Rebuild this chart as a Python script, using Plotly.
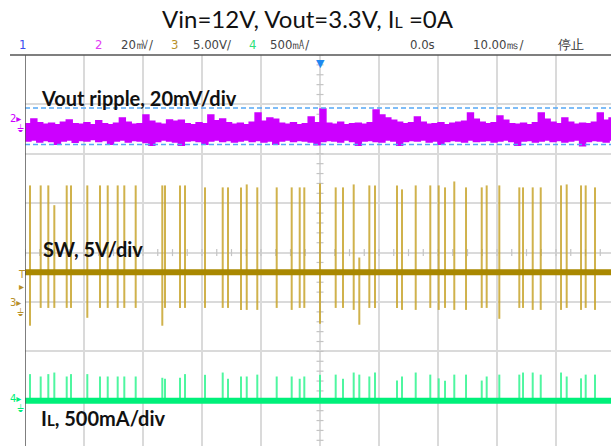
import plotly.graph_objects as go

W, H = 611, 446
ML, MT = 25, 55                      # plot area left / top (px)
PW, PH = W - ML, H - MT

# ---------------- axes (screen divisions) ----------------
t_min, t_max = -50.0, 49.32          # ms, 10 ms/div
y_min, y_max = -3.915, 4.0           # divisions

# ---------------- Channel 2 : Vout ripple (mV, relative) ----------------
ripple_t = list(range(-50, 50))      # ms
ripple_upper = [3.0, 4.9, 3.4, 2.8, 3.2, 2.6, 3.6, 4.5, 3.0, 2.8,
                3.4, 2.6, 4.2, 3.0, 2.6, 3.2, 5.3, 3.6, 2.8, 3.0,
                6.5, 4.0, 3.2, 2.8, 4.5, 4.0, 4.4, 3.0, 2.6, 3.4,
                3.0, 6.5, 4.2, 4.9, 3.4, 2.8, 3.2, 2.6, 3.6, 7.3,
                4.0, 5.3, 4.8, 3.2, 2.8, 3.4, 2.6, 3.0, 5.7, 3.4,
                8.9, 3.2, 2.8, 3.6, 2.6, 3.0, 3.2, 2.8, 3.4, 8.5,
                6.5, 5.3, 4.4, 3.6, 3.0, 3.4, 5.7, 3.6, 2.8, 3.0,
                3.4, 2.6, 3.2, 3.6, 4.0, 7.3, 4.8, 3.6, 3.0, 3.4,
                6.1, 4.4, 3.0, 2.8, 3.2, 2.6, 3.4, 7.3, 4.8, 3.6,
                3.0, 5.3, 3.6, 2.8, 3.2, 3.0, 3.6, 7.3, 4.4, 5.3]
ripple_lower = [-4.0, -3.6, -4.4, -3.8, -4.2, -5.3, -4.0, -3.6, -4.5, -3.8,
                -4.0, -3.4, -4.2, -3.8, -5.3, -4.0, -3.6, -4.4, -3.8, -4.0,
                -4.6, -5.7, -4.2, -3.6, -4.0, -4.4, -5.7, -4.0, -3.8, -4.2,
                -5.3, -4.0, -3.6, -4.2, -3.8, -4.4, -4.0, -3.6, -4.2, -3.8,
                -4.4, -4.0, -5.3, -4.0, -3.6, -4.2, -3.8, -4.0, -4.4, -5.5,
                -4.2, -3.8, -4.0, -4.4, -3.6, -4.2, -5.7, -4.0, -3.8, -4.2,
                -4.4, -3.6, -4.0, -5.7, -4.2, -3.8, -4.0, -3.6, -4.4, -4.0,
                -5.3, -4.2, -3.8, -4.0, -4.4, -3.6, -4.2, -4.0, -3.8, -4.4,
                -4.0, -3.6, -4.2, -5.7, -4.0, -3.8, -4.4, -4.0, -3.6, -4.2,
                -3.8, -4.4, -4.0, -3.6, -5.9, -4.2, -3.8, -4.0, -4.4, -3.6]
ripple_center_div = 2.46
ripple_scale = 20.0                  # mV/div
cursor_mv = [9.3, -5.4]

# ---------------- Switching events ----------------
pulse_t = [-49.15, -47.34, -46.05, -45.03, -42.93, -42.20, -39.44, -37.29, -35.98, -34.29,
           -33.17, -31.24, -26.73, -26.27, -23.73, -22.88, -19.49, -16.49, -15.59, -13.39,
           -12.42, -10.63, -7.34, -4.80, -3.44, -2.66, 0.0, 2.66, 3.90, 5.71,
           6.66, 8.36, 9.32, 13.05, 13.90, 16.22, 18.69, 20.12, 21.19, 22.76,
           24.75, 27.41, 28.25, 30.39, 33.78, 34.41, 36.05, 37.41, 40.85, 41.81,
           44.24, 45.03, 46.61]

# Channel 3 : SW node (V)
sw_high = [11.8, 11.8, 11.8, 9.8, 11.8, 11.8, 11.8, 11.8, 11.8, 11.8,
           11.8, 11.8, 11.8, 11.8, 11.8, 11.8, 11.6, 11.6, 11.6, 11.6,
           11.9, 11.6, 11.6, 11.6, 11.6, 11.6, 12.0, 11.6, 11.6, 11.9,
           4.5, 11.8, 11.8, 11.8, 11.4, 11.8, 11.8, 11.8, 11.6, 12.2,
           11.6, 11.6, 11.8, 11.8, 11.6, 11.6, 11.6, 11.6, 11.8, 11.9,
           11.8, 11.8, 11.6]
sw_low = [-2.4, -0.6, -0.6, -0.6, -0.6, -0.6, -1.6, -0.6, -0.6, -0.6,
          -0.6, -0.6, -2.4, -0.6, -0.6, -0.6, -0.6, -0.6, -0.6, -0.8,
          -0.8, -0.8, -0.6, -0.8, -0.6, -0.6, -2.2, -0.6, -0.6, -0.8,
          -2.3, -0.6, -0.6, -0.6, -0.8, -0.8, -0.6, -0.8, -0.6, -0.8,
          -0.8, -0.6, -0.6, -1.7, -0.6, -0.6, -0.8, -0.8, -0.8, -0.6,
          -0.8, -0.6, -0.8]
sw_idle = 3.0
sw_ground_div = -1.0
sw_scale = 5.0                       # V/div

# Channel 4 : inductor current (mA)
il_peak = [270, 246, 270, 286, 246, 270, 270, 246, 246, 246,
           246, 246, 233, 223, 233, 270, 263, 286, 223, 246,
           246, 265, 246, 246, 223, 246, 263, 265, 223, 286,
           265, 246, 286, 205, 246, 286, 265, 227, 203, 265,
           265, 205, 246, 265, 265, 286, 286, 265, 286, 246,
           227, 265, 265]
il_idle = 0.0
il_ground_div = -3.0
il_scale = 500.0                     # mA/div

# ---------------- colours ----------------
C_MAG = "#CC00FF"
C_GOLD = "#A98800"
C_GOLD_SPIKE = "rgba(200,165,45,0.85)"
C_GREEN = "#00F07A"
C_GREEN_SPIKE = "rgba(60,245,150,0.9)"
C_CURSOR = "#55A8F5"
C_GRID = "#DADADA"


def ch2(v):
    return ripple_center_div + v / ripple_scale


def ch3(v):
    return sw_ground_div + v / sw_scale


def ch4(v):
    return il_ground_div + v / il_scale


def px_x(px):
    return (px - ML) / PW


def px_y(py):
    return (H - py) / PH


fig = go.Figure()

# centre-axis minor ticks (graticule furniture)
minor_x = [t_min + 2.5 * i for i in range(40)]
minor_y = [-3.8 + 0.2 * i for i in range(40)]
fig.add_trace(go.Scatter(x=minor_x, y=[0] * len(minor_x), mode="markers",
                         marker=dict(symbol="line-ns-open", size=5, color="#C4C4C4",
                                     line=dict(color="#C4C4C4", width=1.2)),
                         hoverinfo="skip", showlegend=False))
fig.add_trace(go.Scatter(x=[0] * len(minor_y), y=minor_y, mode="markers",
                         marker=dict(symbol="line-ew-open", size=5, color="#C4C4C4",
                                     line=dict(color="#C4C4C4", width=1.2)),
                         hoverinfo="skip", showlegend=False))

# Ch2 ripple band
fig.add_trace(go.Scatter(x=ripple_t + [t_max], y=[ch2(v) for v in ripple_upper] + [ch2(ripple_upper[-1])],
                         mode="lines", line=dict(color=C_MAG, width=1.5, shape="hv"),
                         hoverinfo="skip", showlegend=False))
fig.add_trace(go.Scatter(x=ripple_t + [t_max], y=[ch2(v) for v in ripple_lower] + [ch2(ripple_lower[-1])],
                         mode="lines", line=dict(color=C_MAG, width=1.5, shape="hv"),
                         fill="tonexty", fillcolor=C_MAG,
                         hoverinfo="skip", showlegend=False))

# cursors
for c in cursor_mv:
    fig.add_trace(go.Scatter(x=[t_min, t_max], y=[ch2(c), ch2(c)], mode="lines",
                             line=dict(color=C_CURSOR, width=1.5, dash="5px,3px"),
                             hoverinfo="skip", showlegend=False))

# Ch3 SW spikes
sx, sy = [], []
for t, hi, lo in zip(pulse_t, sw_high, sw_low):
    sx += [t, t, None]
    sy += [ch3(lo), ch3(hi), None]
fig.add_trace(go.Scatter(x=sx, y=sy, mode="lines",
                         line=dict(color=C_GOLD_SPIKE, width=2),
                         hoverinfo="skip", showlegend=False))
fig.add_trace(go.Scatter(x=[t_min, t_max], y=[ch3(sw_idle)] * 2, mode="lines",
                         line=dict(color=C_GOLD, width=6),
                         hoverinfo="skip", showlegend=False))

# Ch4 IL spikes
gx, gy = [], []
for t, pk in zip(pulse_t, il_peak):
    gx += [t, t, None]
    gy += [ch4(il_idle), ch4(pk), None]
fig.add_trace(go.Scatter(x=gx, y=gy, mode="lines",
                         line=dict(color=C_GREEN_SPIKE, width=2),
                         hoverinfo="skip", showlegend=False))
fig.add_trace(go.Scatter(x=[t_min, t_max], y=[ch4(il_idle)] * 2, mode="lines",
                         line=dict(color=C_GREEN, width=6),
                         hoverinfo="skip", showlegend=False))

shapes = [
    # left frame edge
    dict(type="line", xref="x", yref="paper", x0=t_min, x1=t_min, y0=0, y1=1,
         line=dict(color="#555555", width=1.5)),
    # top frame edge (extends into the margin)
    dict(type="line", xref="paper", yref="paper", x0=px_x(10), x1=1, y0=1, y1=1,
         line=dict(color="#555555", width=1.5)),
]

LBL = "Lato, 'Liberation Sans', sans-serif"
HDR = "'Liberation Sans Narrow', 'DejaVu Sans Condensed', 'Roboto', sans-serif"

ann = []
# title
ann.append(dict(xref="paper", yref="paper", x=px_x(308), y=px_y(19),
                text="Vin=12V, Vout=3.3V, I<span style='font-size:16px'>L</span> =0A",
                showarrow=False, xanchor="center", yanchor="middle",
                font=dict(family=LBL, size=24, color="#111111")))

# header row
hdr_items = [
    (17, "1", "#3A4CF0"),
    (93, "2", "#E23CF5"),
    (119, "20㎷/", "#444444"),
    (169, "3", "#B8902A"),
    (191, "5.00V/", "#444444"),
    (247, "4", "#2FE07A"),
    (268, "500㎃/", "#444444"),
    (408, "0.0s", "#444444"),
    (471, "10.00㎳/", "#444444"),
    (556, "停止", "#333333"),
]
for x, txt, col in hdr_items:
    ann.append(dict(xref="paper", yref="paper", x=px_x(x), y=px_y(44),
                    text=txt, showarrow=False, xanchor="left", yanchor="middle",
                    font=dict(family=HDR, size=13, color=col)))

# trigger position marker
ann.append(dict(xref="x", yref="paper", x=0, y=1, text="▼", showarrow=False,
                xanchor="center", yanchor="top",
                font=dict(family="DejaVu Sans", size=11, color="#1E88F0")))

# channel labels
ann.append(dict(xref="paper", yref="paper", x=px_x(39), y=px_y(98),
                text="<b>Vout ripple, 20mV/div</b>", showarrow=False,
                xanchor="left", yanchor="middle",
                font=dict(family=LBL, size=20, color="#111111")))
ann.append(dict(xref="paper", yref="paper", x=px_x(41), y=px_y(249),
                text="<b>SW, 5V/div</b>", showarrow=False,
                xanchor="left", yanchor="middle",
                font=dict(family=LBL, size=20, color="#111111")))
ann.append(dict(xref="paper", yref="paper", x=px_x(39), y=px_y(418),
                text="<b>I<span style='font-size:15px'>L</span>, 500mA/div</b>", showarrow=False,
                xanchor="left", yanchor="middle",
                font=dict(family=LBL, size=20, color="#111111")))

# channel ground / trigger markers at left edge
markers = [
    (8, 118, "2▸", C_MAG),
    (15, 128, "⏚", C_MAG),
    (16, 274, "T", "#B8902A"),
    (17, 286, "▸", "#B8902A"),
    (8, 302, "3▸", "#B8902A"),
    (15, 312, "⏚", "#B8902A"),
    (8, 398, "4▸", C_GREEN),
    (15, 408, "⏚", C_GREEN),
]
for x, y, txt, col in markers:
    ann.append(dict(xref="paper", yref="paper", x=px_x(x), y=px_y(y),
                    text=txt, showarrow=False, xanchor="left", yanchor="middle",
                    font=dict(family="DejaVu Sans", size=10, color=col)))

fig.update_layout(
    width=W, height=H,
    margin=dict(l=ML, r=0, t=MT, b=0, pad=0),
    paper_bgcolor="white", plot_bgcolor="white",
    showlegend=False,
    shapes=shapes, annotations=ann,
    xaxis=dict(range=[t_min, t_max], tick0=t_min, dtick=10, showgrid=True,
               gridcolor=C_GRID, gridwidth=1.5, zeroline=False, showline=False,
               showticklabels=False, ticks="", fixedrange=True),
    yaxis=dict(range=[y_min, y_max], tick0=0, dtick=1, showgrid=True,
               gridcolor=C_GRID, gridwidth=1.5, zeroline=False, showline=False,
               showticklabels=False, ticks="", fixedrange=True),
)

fig.write_html("out.html", config={"displayModeBar": False},
               post_script="document.body.style.margin='0';document.body.style.overflow='hidden';")
